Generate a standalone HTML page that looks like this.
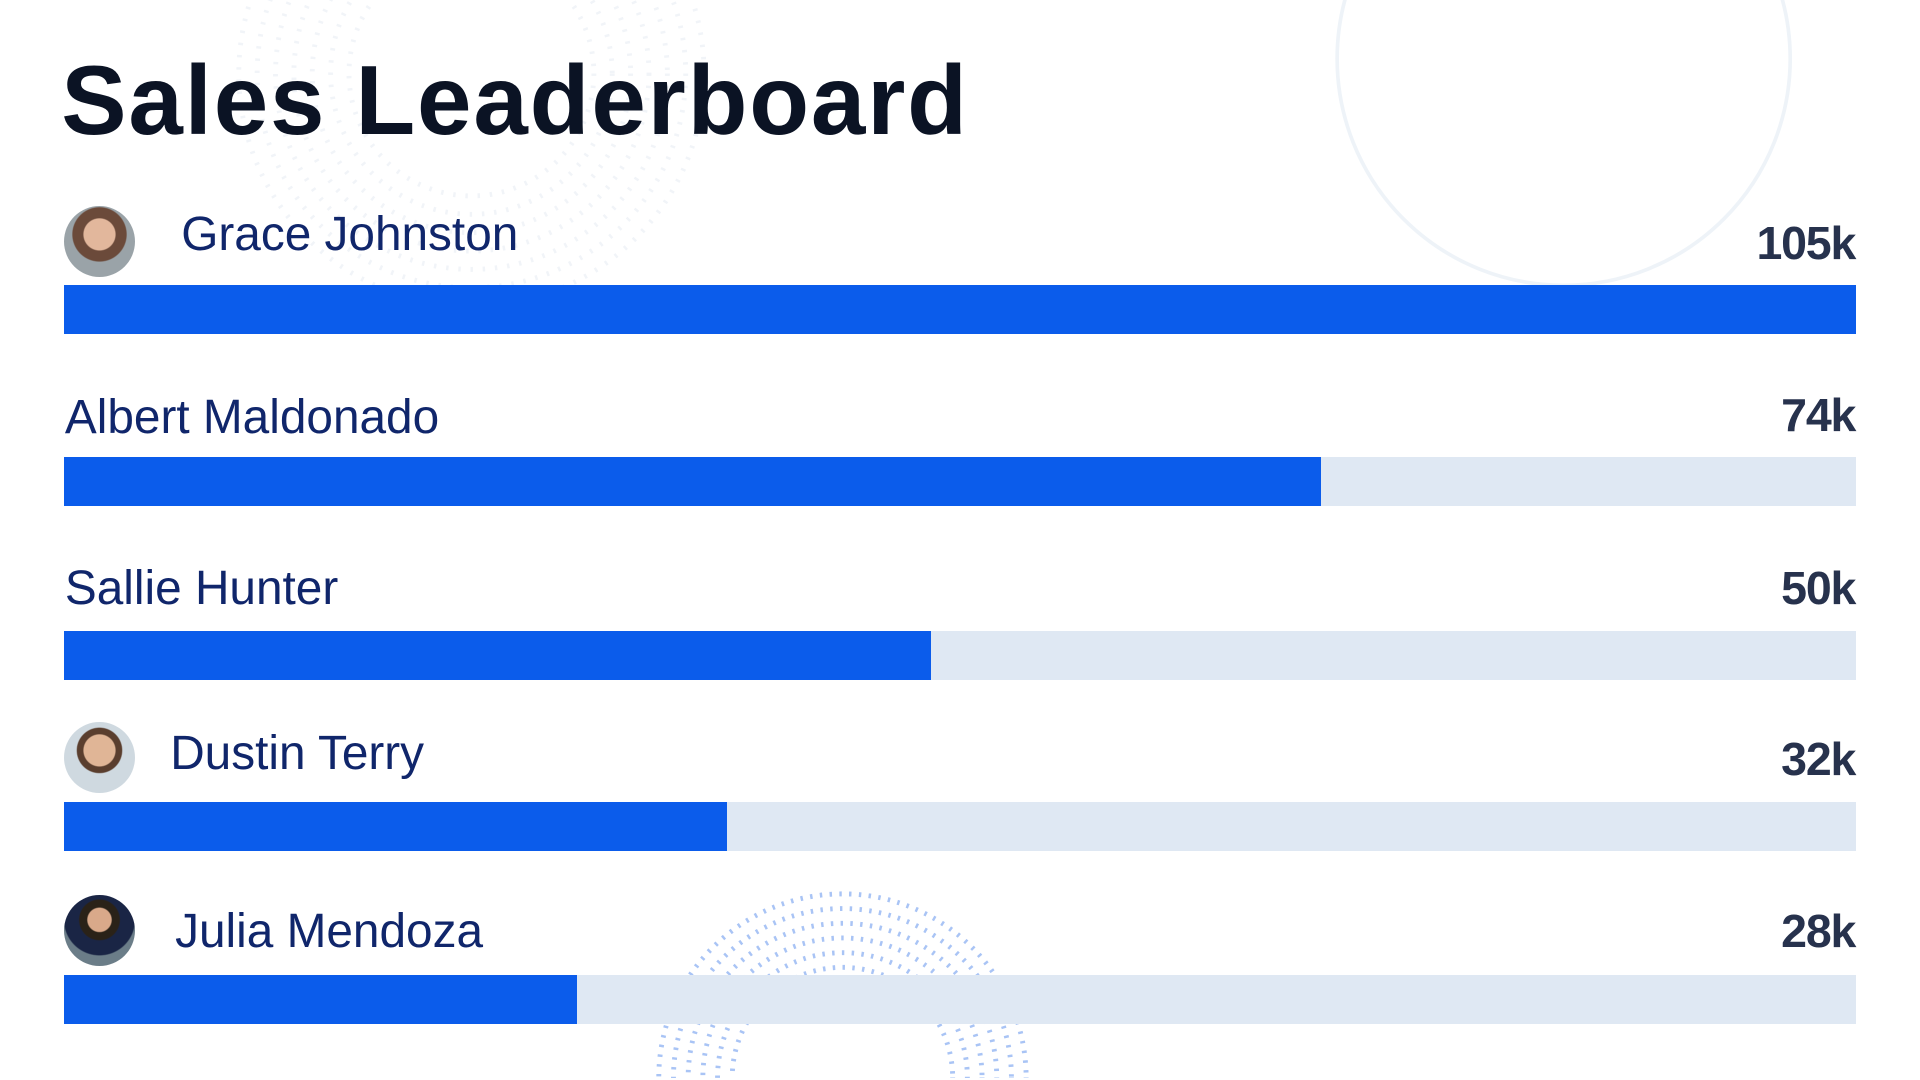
<!DOCTYPE html>
<html><head><meta charset="utf-8"><style>
html,body{margin:0;padding:0;background:#fff;overflow:hidden;width:1920px;height:1080px}
#w{position:relative;width:1920px;height:1080px;overflow:hidden}
#s{position:relative;width:1568px;height:880px;overflow:hidden;zoom:1.22449;font-family:"Liberation Sans",sans-serif}
.t{position:absolute;left:50px;top:34px;font-size:80px;font-weight:bold;color:#0b1324;letter-spacing:1.5px;line-height:96px}
.n{position:absolute;font-size:39px;color:#10266b;line-height:44px}
.v{position:absolute;right:53px;font-size:38px;color:#27324d;line-height:44px;font-weight:bold;letter-spacing:-1px}
.tr{position:absolute;left:52px;width:1464px;height:40px;background:#dfe8f3}
.f{height:100%;background:#0b5ceb}
.a{position:absolute;left:52px;width:58px;height:58px;border-radius:50%;background:radial-gradient(circle at 50% 40%,#e2b79c 0 28%,#6b4a3a 30% 48%,#9aa3a8 50%)}
</style></head><body><div id="w"><div id="s">
<svg width="1568" height="880" style="position:absolute;left:0;top:0">
<circle cx="1277" cy="48" r="185" fill="none" stroke="#eef3f8" stroke-width="3"/>
<g fill="none" stroke="#f1f4f8" stroke-width="4" stroke-dasharray="2 8">
<circle cx="385" cy="60" r="100"/><circle cx="385" cy="60" r="115"/><circle cx="385" cy="60" r="130"/><circle cx="385" cy="60" r="145"/><circle cx="385" cy="60" r="160"/><circle cx="385" cy="60" r="175"/><circle cx="385" cy="60" r="190"/>
</g>
<g fill="none" stroke="#a9c4f5" stroke-width="4" stroke-dasharray="2 6">
<circle cx="688" cy="880" r="90"/><circle cx="688" cy="880" r="102"/><circle cx="688" cy="880" r="114"/><circle cx="688" cy="880" r="126"/><circle cx="688" cy="880" r="138"/><circle cx="688" cy="880" r="150"/>
</g>
</svg>
<div class="t">Sales Leaderboard</div>

<div class="a" style="top:168px"></div>
<div class="n" style="left:148px;top:170px">Grace Johnston</div>
<div class="v" style="top:177px">105k</div>
<div class="tr" style="top:233px"><div class="f" style="width:1464px"></div></div>

<div class="n" style="left:53px;top:319px">Albert Maldonado</div>
<div class="v" style="top:318px">74k</div>
<div class="tr" style="top:373px"><div class="f" style="width:1027px"></div></div>

<div class="n" style="left:53px;top:459px">Sallie Hunter</div>
<div class="v" style="top:459px">50k</div>
<div class="tr" style="top:515px"><div class="f" style="width:708px"></div></div>

<div class="a" style="top:590px;background:radial-gradient(circle at 50% 40%,#e0b596 0 28%,#5a3e2e 30% 40%,#cfd9e0 42%)"></div>
<div class="n" style="left:139px;top:594px">Dustin Terry</div>
<div class="v" style="top:599px">32k</div>
<div class="tr" style="top:655px"><div class="f" style="width:542px"></div></div>

<div class="a" style="top:731px;background:radial-gradient(circle at 50% 35%,#d9a98a 0 20%,#2a2218 22% 34%,#1a2545 36% 60%,#6b7d88 62%)"></div>
<div class="n" style="left:143px;top:739px">Julia Mendoza</div>
<div class="v" style="top:739px">28k</div>
<div class="tr" style="top:796px"><div class="f" style="width:419px"></div></div>
</div></div></body></html>
